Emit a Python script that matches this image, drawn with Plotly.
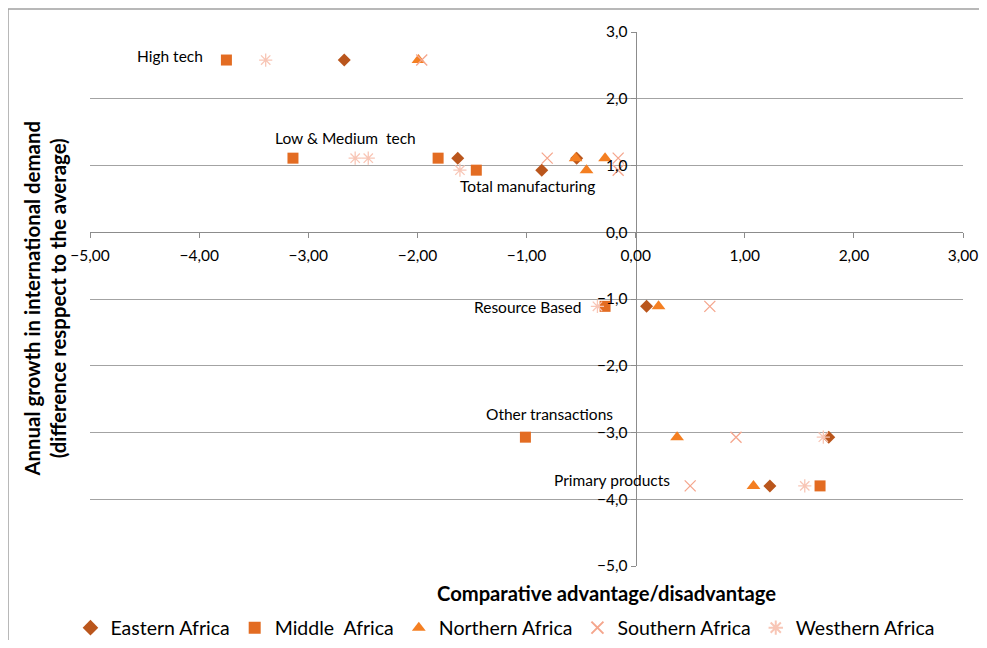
import plotly.graph_objects as go

categories = ["High tech", "Low tech", "Medium tech", "Total manufacturing",
              "Resource Based", "Other transactions", "Primary products"]
growth = [2.58, 1.11, 1.11, 0.93, -1.11, -3.07, -3.80]

eastern = [-2.67, -1.63, -0.54, -0.86, 0.10, 1.77, 1.23]
middle = [-3.75, -3.14, -1.81, -1.46, -0.28, -1.01, 1.69]
northern = [-1.99, -0.55, -0.28, -0.45, 0.21, 0.38, 1.08]
southern = [-1.96, -0.81, -0.16, -0.16, 0.68, 0.92, 0.50]
western = [-3.39, -2.57, -2.45, -1.61, -0.35, 1.72, 1.55]

label_text = ["High tech", "Low & Medium  tech", "Total manufacturing",
              "Resource Based", "Other transactions", "Primary products"]
label_x = [-4.59, -3.32, -1.63, -1.50, -1.39, -0.77]
label_y = [2.64, 1.41, 0.69, -1.12, -2.72, -3.71]

FONT = "Lato, 'Open Sans', sans-serif"

series = [
    ("Eastern Africa", eastern, dict(symbol="diamond", size=10, color="#BA561C")),
    ("Middle  Africa", middle, dict(symbol="square", size=11, color="#E36C22")),
    ("Northern Africa", northern, dict(symbol="triangle-up", size=12, color="#F47F22")),
    ("Southern Africa", southern, dict(symbol="x-thin-open", size=11, color="#F5A68D",
                                       line=dict(color="#F5A68D", width=1.3))),
    ("Westhern Africa", western, dict(symbol="asterisk-open", size=11, color="#F8C6B6",
                                      line=dict(color="#F8C6B6", width=1.3))),
]

fig = go.Figure()
for name, xs, mk in series:
    fig.add_trace(go.Scatter(x=xs, y=growth, mode="markers", name=name, marker=mk,
                             customdata=categories))

for t, x, y in zip(label_text, label_x, label_y):
    fig.add_annotation(x=x, y=y, text=t, showarrow=False, xanchor="left", yanchor="middle",
                       font=dict(family=FONT, size=15.5, color="#000"))

fig.add_annotation(xref="paper", yref="paper", x=0.592, y=-0.0506,
                   text="<b>Comparative advantage/disadvantage</b>", showarrow=False,
                   font=dict(family=FONT, size=20.2, color="#000"), xanchor="center", yanchor="middle")
fig.add_annotation(xref="paper", yref="paper", x=-0.052, y=0.5,
                   text="<b>Annual growth in international demand<br>(difference resppect to the average)</b>",
                   showarrow=False, textangle=-90,
                   font=dict(family=FONT, size=20.4, color="#000"), xanchor="center", yanchor="middle")

# outer chart border (top and left edges visible)
bx0 = (8 - 90) / 873
by1 = (566 - 9) / 534
fig.add_shape(type="line", xref="paper", yref="paper", x0=bx0, x1=1.2, y0=by1, y1=by1,
              line=dict(color="#A0A0A0", width=1.5), layer="below")
fig.add_shape(type="line", xref="paper", yref="paper", x0=bx0, x1=bx0, y0=by1, y1=-0.3,
              line=dict(color="#A0A0A0", width=1.5), layer="below")

fig.update_layout(
    width=971, height=632,
    margin=dict(l=82, r=16, t=24, b=74, autoexpand=False),
    paper_bgcolor="white", plot_bgcolor="white",
    separators=", ",
    font=dict(family=FONT, color="#000"),
    xaxis=dict(range=[-5, 3], dtick=1, tick0=-5, tickformat=".2f", showgrid=False, zeroline=False,
               anchor="free", position=0.625, showline=True, linecolor="#8C8C8C", linewidth=1,
               ticks="outside", ticklen=5, tickcolor="#8C8C8C", ticklabelstandoff=4,
               automargin=False, tickfont=dict(size=15.5, family=FONT)),
    yaxis=dict(range=[-5, 3], dtick=1, tick0=-5, tickformat=".1f", showgrid=True, gridcolor="#A3A3A3",
               zeroline=False, anchor="free", position=0.625, showline=True, linecolor="#8C8C8C",
               linewidth=1, ticks="outside", ticklen=5, tickcolor="#8C8C8C", automargin=False,
               tickfont=dict(size=15.5, family=FONT)),
    legend=dict(orientation="h", xref="container", yref="container",
                x=0.5118, xanchor="center", y=0.019, yanchor="middle",
                font=dict(size=19.5, family=FONT), itemsizing="constant", tracegroupgap=0,
                itemwidth=30),
    showlegend=True,
)

fig.write_html("out.html")
